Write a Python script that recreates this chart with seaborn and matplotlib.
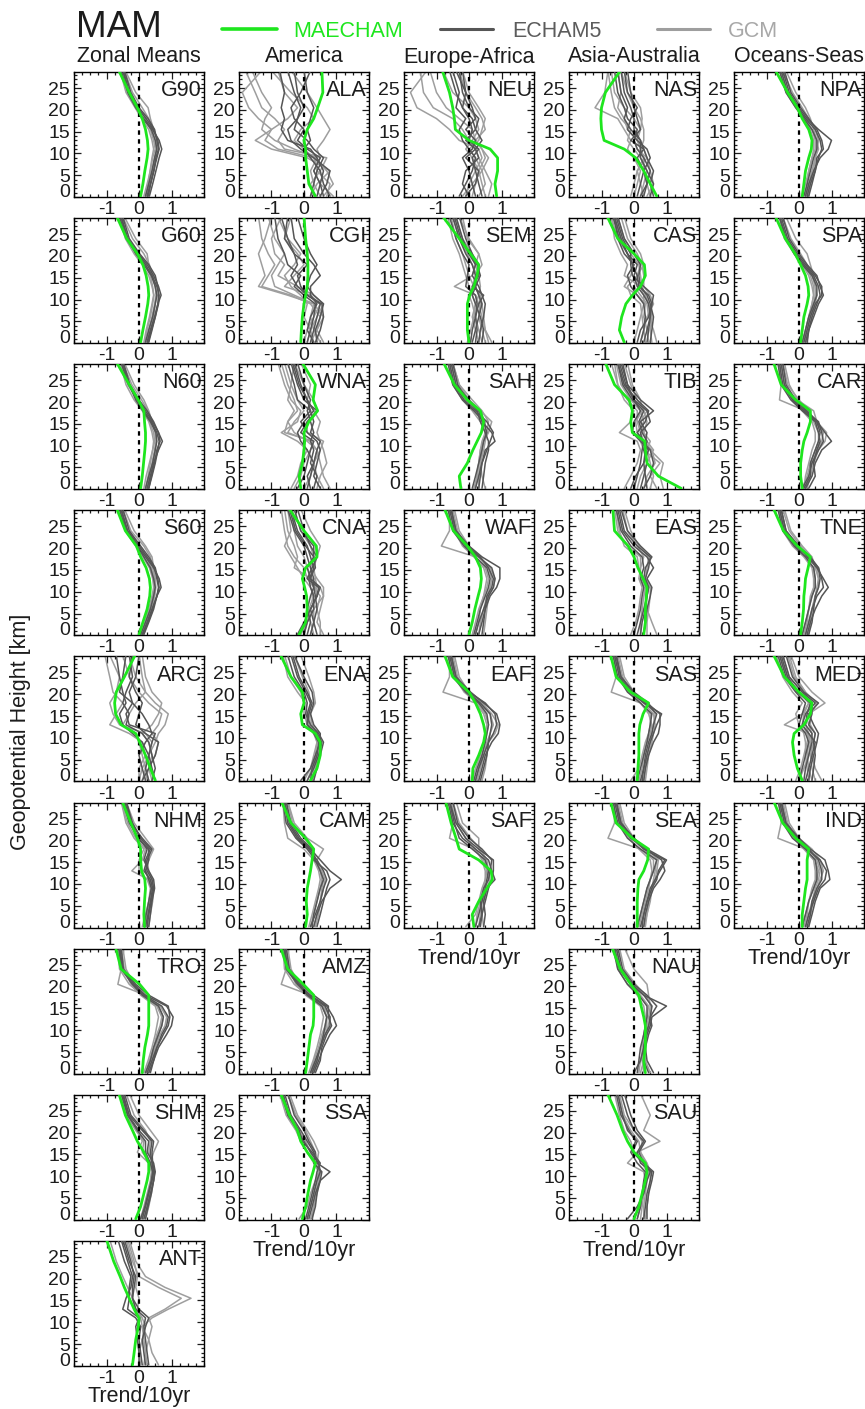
import numpy as np
import pandas as pd
import matplotlib
matplotlib.use("Agg")
import matplotlib.pyplot as plt
import seaborn as sns
from matplotlib.lines import Line2D
from matplotlib.ticker import MultipleLocator

# Heights [km] at which every trend profile is given
LEVELS = [0.2, 3, 6, 9, 11, 13, 15.5, 18, 20.5, 24, 29]

SEASON = "MAM"
COLUMN_TITLES = ["Zonal Means", "America", "Europe-Africa", "Asia-Australia", "Oceans-Seas"]
COLUMN_REGIONS = [
    ["G90", "G60", "N60", "S60", "ARC", "NHM", "TRO", "SHM", "ANT"],
    ["ALA", "CGI", "WNA", "CNA", "ENA", "CAM", "AMZ", "SSA"],
    ["NEU", "SEM", "SAH", "WAF", "EAF", "SAF"],
    ["NAS", "CAS", "TIB", "EAS", "SAS", "SEA", "NAU", "SAU"],
    ["NPA", "SPA", "CAR", "TNE", "MED", "IND"],
]
X_TICKS = [-1, 0, 1]
Y_TICKS = [0, 5, 10, 15, 20, 25]

# ---- temperature trend profiles (K per 10 yr) ----
G90_MAE = [.05, .12, .18, .25, .28, .26, .2, .1, -.05, -.3, -.62]
G90_E5 = [[.25, .35, .45, .55, .62, .58, .45, .22, -.05, -.3, -.5],
          [.32, .42, .52, .62, .7, .62, .42, .15, -.1, -.35, -.55],
          [.2, .3, .4, .48, .55, .5, .38, .12, -.08, -.3, -.48],
          [.28, .36, .46, .52, .6, .55, .48, .28, 0, -.25, -.45]]
G90_GCM = [[.15, .25, .35, .42, .5, .45, .35, .2, 0, -.32, -.52],
           [.25, .3, .4, .48, .55, .55, .45, .35, .28, -.1, -.42],
           [.2, .28, .34, .4, .45, .4, .3, .08, -.12, -.4, -.58],
           [.3, .35, .44, .5, .52, .5, .42, .3, .1, -.2, -.45]]

G60_MAE = [.05, .12, .2, .27, .3, .28, .22, .12, -.05, -.38, -.68]
G60_E5 = [[.25, .35, .48, .58, .68, .6, .45, .25, -.02, -.35, -.55],
          [.3, .4, .5, .6, .62, .55, .4, .2, -.08, -.38, -.6],
          [.2, .3, .42, .5, .55, .5, .38, .15, -.1, -.35, -.55],
          [.28, .38, .5, .58, .6, .58, .5, .3, .02, -.3, -.5]]
G60_GCM = [[.15, .22, .32, .4, .45, .42, .35, .2, -.05, -.35, -.55],
           [.25, .3, .4, .48, .52, .5, .4, .3, .25, -.1, -.45],
           [.18, .25, .35, .42, .46, .4, .3, .1, -.15, -.42, -.6],
           [.3, .35, .45, .5, .55, .5, .42, .32, .15, -.2, -.5]]

N60_MAE = [.05, .1, .14, .18, .2, .2, .17, .15, -.02, -.3, -.68]
N60_E5 = [[.25, .35, .45, .6, .72, .6, .42, .2, -.02, -.3, -.5],
          [.3, .4, .5, .58, .62, .55, .38, .15, -.05, -.32, -.55],
          [.2, .3, .42, .5, .55, .52, .35, .12, -.1, -.3, -.5],
          [.3, .38, .48, .55, .65, .6, .45, .25, 0, -.28, -.48]]
N60_GCM = [[.15, .22, .32, .42, .48, .45, .32, .15, -.05, -.35, -.55],
           [.25, .32, .4, .48, .52, .5, .4, .3, .15, -.15, -.45],
           [.2, .28, .35, .42, .45, .4, .3, .1, -.15, -.4, -.58],
           [.3, .35, .45, .5, .52, .5, .4, .28, .08, -.22, -.5]]

S60_MAE = [0, .12, .25, .33, .35, .32, .22, .05, -.08, -.42, -.68]
S60_E5 = [[.1, .25, .4, .55, .68, .62, .45, .2, -.05, -.38, -.55],
          [.15, .3, .45, .55, .6, .55, .48, .25, 0, -.35, -.55],
          [.05, .2, .35, .45, .5, .45, .35, .15, -.05, -.4, -.6],
          [.12, .28, .42, .55, .62, .58, .5, .3, .05, -.3, -.5]]
S60_GCM = [[.08, .2, .32, .42, .48, .45, .38, .22, .02, -.35, -.55],
           [.15, .25, .38, .48, .52, .5, .45, .4, .2, -.15, -.45],
           [.05, .18, .3, .4, .45, .42, .32, .12, -.1, -.42, -.6],
           [.1, .25, .38, .48, .5, .48, .42, .35, .15, -.25, -.5]]

ARC_MAE = [.5, .35, .2, .02, -.1, -.55, -.72, -.75, -.7, -.45, -.12]
ARC_E5 = [[.5, .4, .3, .1, -.2, -.5, -.6, -.4, -.5, -.6, -.7],
          [.1, .3, .5, .6, .2, -.1, 0, .1, -.1, -.3, -.2],
          [.2, .1, 0, .2, .4, .3, .1, -.2, -.3, -.1, 0],
          [.3, .2, .3, .4, .5, -.3, -.4, -.2, -.6, -.5, -.4],
          [.4, .5, .4, .3, .1, -.4, -.3, -.5, -.4, -.2, -.3]]
ARC_GCM = [[.1, .2, .3, .5, .6, .8, .9, .5, .2, -.1, -.3],
           [0, 0, .2, .1, -.3, -.9, -.7, -.5, -.8, -.9, -1.05],
           [.2, .3, .4, .3, .1, .4, .6, .7, .4, .2, .1],
           [.3, .2, .1, 0, -.1, -.5, -.3, -.1, .2, .1, 0],
           [0, .1, .3, .4, .2, -.6, -.8, -.9, -.7, -.6, -.9],
           [.4, .3, .5, .6, .4, .6, .7, .3, 0, -.3, -.5]]

NHM_MAE = [.17, .15, .17, .2, .18, .08, .05, .05, -.05, -.25, -.52]
NHM_E5 = [[.25, .3, .38, .45, .4, .25, .2, .35, .05, -.2, -.4],
          [.2, .28, .35, .42, .35, .15, .25, .4, .1, -.25, -.45],
          [.3, .35, .4, .48, .45, .3, .15, .25, 0, -.3, -.5],
          [.15, .22, .3, .38, .3, .2, .3, .3, -.05, -.22, -.4]]
NHM_GCM = [[.1, .2, .3, .38, .3, -.22, .1, .2, -.1, -.35, -.55],
           [.25, .3, .35, .4, .35, .2, .3, .45, .2, -.15, -.4],
           [.2, .25, .3, .35, .25, 0, 0, .15, -.15, -.4, -.55],
           [.3, .35, .42, .45, .4, .3, .25, .3, .05, -.2, -.45]]

TRO_MAE = [.1, .13, .18, .26, .3, .3, .3, .3, .02, -.55, -.72]
TRO_E5 = [[.3, .45, .6, .85, 1.0, 1.05, .85, .2, -.15, -.5, -.6],
          [.25, .4, .55, .7, .85, .9, .7, .15, -.2, -.55, -.62],
          [.2, .35, .45, .6, .7, .75, .6, .1, -.2, -.5, -.6],
          [.35, .45, .55, .75, .9, .95, .9, .3, -.1, -.48, -.55]]
TRO_GCM = [[.2, .32, .45, .55, .65, .7, .55, .1, -.3, -.6, -.65],
           [.25, .35, .5, .65, .8, .85, .65, .2, -.65, -.55, -.6],
           [.15, .28, .4, .5, .55, .6, .5, .05, -.25, -.45, -.55],
           [.3, .4, .5, .6, .7, .75, .6, .15, -.15, -.4, -.5]]

SHM_MAE = [-.1, .05, .15, .25, .3, .3, .15, -.05, -.2, -.42, -.62]
SHM_E5 = [[.1, .2, .3, .4, .45, .4, .35, .4, .1, -.3, -.5],
          [.15, .25, .35, .45, .5, .45, .25, .3, 0, -.35, -.55],
          [.05, .18, .28, .38, .42, .35, .2, .2, -.05, -.35, -.5],
          [.2, .28, .38, .45, .48, .42, .4, .45, .15, -.25, -.45]]
SHM_GCM = [[.1, .2, .3, .38, .4, .35, .45, .6, .35, 0, -.3],
           [.15, .25, .32, .4, .45, .35, .1, .15, -.1, -.4, -.55],
           [.05, .15, .25, .35, .38, .3, -.05, .1, -.05, -.3, -.5],
           [.2, .3, .38, .45, .45, .4, .3, .35, .2, -.15, -.4]]

ANT_MAE = [-.2, -.15, -.1, -.02, 0, -.15, -.3, -.45, -.58, -.78, -1.0]
ANT_E5 = [[.1, .05, 0, .05, -.1, -.5, -.4, -.25, -.2, -.35, -.55],
          [.2, .15, .1, .2, .3, 0, -.2, -.15, -.1, -.3, -.5],
          [0, 0, -.05, -.1, 0, -.35, -.3, -.3, -.25, -.45, -.65],
          [.3, .25, .2, .15, .2, -.1, -.2, -.2, -.15, -.25, -.45]]
ANT_GCM = [[.6, .4, .3, .1, .4, .9, 1.6, .8, .2, -.1, -.3],
           [.15, .2, .3, .4, .3, .8, 1.3, .6, 0, -.2, -.4],
           [.05, 0, .1, .2, .1, -.1, -.2, -.35, -.5, -.7, -.9],
           [.25, .2, .15, .1, .05, -.05, 0, -.1, -.05, -.15, -.35]]

ALA_MAE = [.35, .15, .1, .05, .05, 0, .1, .3, .42, .58, .55]
ALA_E5 = [[.6, .5, .6, .4, .2, -.5, -.7, -.6, -.7, -.6, -.75],
          [.2, .3, .4, .6, .3, .1, -.3, -.2, 0, -.2, -.3],
          [.8, .6, .5, .2, 0, .2, .1, .2, .3, .1, 0],
          [.4, .5, .3, .5, .1, -.2, 0, -.3, -.4, -.1, .2],
          [.5, .7, .8, .3, -.1, -.4, -.5, -.2, -.1, -.3, -.5]]
ALA_GCM = [[.6, .9, .7, .3, -.8, -1.2, -1.0, -1.4, -1.7, -1.9, -1.3],
           [.2, .4, .8, .1, -1.0, -1.5, -1.0, -.5, -.2, -.6, -.8],
           [.9, .5, .3, .5, .4, .6, .8, .6, .4, .1, -.4],
           [.5, .3, .2, .4, -.3, -.9, -1.3, -1.2, -1.0, -1.3, -1.6],
           [.3, .2, .5, .7, -.6, -.8, -.6, -.9, -1.3, -1.5, -1.8],
           [.7, .8, .4, .3, 0, -.3, -.1, .3, .1, -.4, -1.0]]

CGI_MAE = [-.1, -.08, -.05, 0, .05, .1, .12, .12, .1, .05, 0]
CGI_E5 = [[.2, .3, .4, .5, .1, -.2, -.4, -.2, -.3, -.5, -.7],
          [.4, .35, .5, .6, .3, .1, .2, .4, .2, 0, -.2],
          [.1, .2, .3, .35, 0, -.3, -.1, -.5, -.6, -.8, -.9],
          [.3, .1, .2, .4, .2, .2, .5, .3, 0, -.3, -.4],
          [.35, .5, .6, .55, .1, -.1, -.2, .1, -.3, -.6, -.5]]
CGI_GCM = [[.5, .3, .2, .3, -.5, -1.4, -1.2, -1.3, -1.4, -1.2, -1.0],
           [.2, .4, .6, .3, -.3, -.9, -1.0, -.8, -.6, -.9, -1.1],
           [.3, .2, 0, .1, -.1, -.4, -.6, -.3, -.1, -.5, -.8],
           [0, .1, .3, .5, .2, -.6, -.3, 0, -.2, -.6, -.4],
           [.6, .4, .5, .2, -.4, -1.3, -1.1, -.9, -1.1, -1.3, -1.4],
           [.1, .2, .4, .6, .3, -.2, -.8, -.6, -.9, -1.0, -.7]]

WNA_MAE = [-.1, -.15, -.05, 0, .02, 0, .15, .42, .28, .35, -.05]
WNA_E5 = [[.1, .2, .3, .1, -.1, -.2, 0, .3, .1, -.1, -.3],
          [.3, .4, .2, .3, .2, .3, .2, .1, .2, 0, -.2],
          [-.2, 0, .1, .2, .3, -.1, .1, .4, 0, -.2, -.4],
          [.5, .3, .4, .5, .4, .1, -.1, .2, -.2, -.3, -.5],
          [.2, .1, .3, .4, .5, .2, .3, .2, .1, -.15, -.35]]
WNA_GCM = [[-.4, -.2, -.1, .1, -.2, -.7, -.2, -.1, -.4, -.6, -.8],
           [.8, .6, .5, .4, .1, -.3, -.5, -.3, -.5, -.4, -.6],
           [.4, .5, .7, .6, .5, .4, .5, .3, .1, .2, -.1],
           [0, .2, .3, .4, .2, -.5, -.3, 0, -.2, -.4, -.3],
           [-.3, -.1, 0, .2, .3, -.6, -.5, -.2, -.3, -.5, -.7],
           [.6, .4, .3, .5, .6, .1, .1, .4, .3, 0, -.3]]

CNA_MAE = [-.15, .05, .1, .08, .02, -.05, .05, .4, .38, 0, -.45]
CNA_E5 = [[.2, .3, .4, .35, .3, .2, .3, .2, .1, -.2, -.4],
          [-.2, 0, .2, .4, .5, .2, .1, .3, .3, -.1, -.3],
          [.1, .2, .1, .2, .3, .3, .2, .1, 0, -.3, -.5],
          [.4, .3, .2, .4, .45, .1, .25, .4, .2, 0, -.2],
          [0, .1, .3, .3, .2, .15, .35, .3, .05, -.25, -.45]]
CNA_GCM = [[.5, .5, .4, .5, .3, .1, 0, -.3, -.5, -.6, -.7],
           [-.1, .1, .3, .6, .6, .4, .2, .3, .2, -.1, -.3],
           [.3, .2, .15, .3, .2, 0, -.2, -.4, -.6, -.4, -.5],
           [.2, .3, .3, .25, .4, .35, .3, .4, .5, .2, -.1],
           [.6, .4, .5, .6, .5, .2, -.3, -.2, -.3, -.5, -.6],
           [0, .1, .2, .4, .35, .25, .1, 0, -.2, -.3, -.35]]

ENA_MAE = [.2, .4, .5, .5, .35, -.05, -.1, 0, -.05, -.4, -.72]
ENA_E5 = [[.1, .3, .45, .55, .4, .1, .1, .2, .05, -.2, -.4],
          [-.1, .2, .35, .5, .5, .3, .2, .3, .25, 0, -.3],
          [.3, .4, .5, .6, .45, .2, .05, .1, 0, -.3, -.5],
          [.2, .25, .4, .45, .3, .1, .15, .25, .1, -.15, -.35]]
ENA_GCM = [[0, .2, .3, .4, .3, .1, 0, 0, -.1, -.4, -.6],
           [.3, .35, .45, .5, .4, .25, .2, .35, .3, .15, -.1],
           [.1, .25, .35, .4, .35, .15, .1, .05, -.2, -.5, -.65],
           [.25, .3, .4, .5, .45, .2, .15, .2, .15, -.05, -.3]]

CAM_MAE = [.05, .1, .07, .1, .15, .2, .25, .3, .05, -.4, -.7]
CAM_E5 = [[.3, .4, .55, .8, 1.15, .8, .5, .2, -.15, -.45, -.6],
          [.2, .35, .5, .6, .7, .6, .4, .15, -.2, -.5, -.6],
          [.4, .5, .6, .7, .8, .7, .3, .25, -.1, -.4, -.55],
          [.25, .3, .4, .5, .6, .5, .35, .1, -.25, -.55, -.65]]
CAM_GCM = [[.2, .3, .4, .5, .55, .5, .4, .6, .1, -.3, -.5],
           [.3, .4, .5, .6, .65, .55, .3, 0, -.5, -.6, -.65],
           [.15, .25, .35, .45, .5, .45, .3, .2, -.2, -.45, -.55],
           [.35, .45, .5, .55, .6, .5, .35, .3, 0, -.35, -.5]]

AMZ_MAE = [.05, .1, .15, .2, .28, .3, .3, .3, -.02, -.5, -.72]
AMZ_E5 = [[.3, .45, .6, .8, 1.0, .9, .7, .2, -.15, -.5, -.6],
          [.2, .35, .5, .65, .8, .8, .65, .15, -.2, -.55, -.62],
          [.25, .4, .5, .6, .65, .7, .55, .1, -.18, -.5, -.6],
          [.35, .5, .55, .7, .85, .75, .75, .3, -.1, -.45, -.55]]
AMZ_GCM = [[.2, .3, .45, .55, .65, .7, .55, .1, -.3, -.6, -.65],
           [.25, .35, .5, .65, .75, .8, .6, .2, -.7, -.55, -.6],
           [.15, .28, .4, .5, .55, .6, .5, .05, -.25, -.45, -.55],
           [.3, .4, .5, .6, .7, .7, .6, .15, -.15, -.4, -.5]]

SSA_MAE = [-.05, .05, .12, .2, .28, .35, .1, -.1, -.2, -.45, -.72]
SSA_E5 = [[.15, .25, .35, .5, .8, .4, .3, .1, -.1, -.4, -.6],
          [.1, .2, .3, .4, .5, .45, .2, 0, -.2, -.5, -.7],
          [.25, .35, .4, .5, .55, .3, .35, .15, 0, -.3, -.5],
          [.05, .15, .25, .35, .4, .5, .25, -.05, -.15, -.45, -.65]]
SSA_GCM = [[-.15, .1, .2, .35, .45, .35, .2, .05, -.15, -.5, -.65],
           [.2, .3, .4, .45, .5, .4, .45, .3, .1, -.2, -.45],
           [.1, .2, .3, .4, .45, .3, .1, -.1, -.25, -.55, -.75],
           [.25, .3, .35, .45, .5, .45, .35, .2, .05, -.25, -.5]]

NEU_MAE = [.85, .8, .88, .88, .65, 0, -.42, -.45, -.5, -.6, -.82]
NEU_E5 = [[-.3, -.1, .1, .2, 0, -.2, -.3, -.1, -.4, -.3, -.5],
          [.2, .1, 0, -.2, .1, .2, -.1, .2, .1, -.1, -.2],
          [.4, .3, .2, .1, .3, 0, .1, 0, -.2, -.4, -.6],
          [0, -.2, -.1, .3, .2, -.1, .2, .3, 0, -.2, -.3],
          [-.1, .2, .3, -.1, .2, .4, .2, .1, -.2, -.1, -.4]]
NEU_GCM = [[.3, .5, .4, .2, 0, .3, .4, .5, .3, 0, -.2],
           [-.1, 0, .2, .4, .3, -.3, -.6, -1.0, -1.6, -1.8, -1.3],
           [.5, .4, .3, .5, .4, .2, .1, -.3, -.7, -1.0, -1.2],
           [.1, .2, .3, .1, -.1, .1, .3, .2, 0, -.5, -.8],
           [.6, .7, .5, .3, .2, 0, -.2, -.5, -1.1, -1.4, -1.5],
           [-.2, .1, .4, .6, .4, .2, .5, .4, .2, -.1, -.3]]

SEM_MAE = [0, -.05, -.05, -.05, .02, .15, .25, .3, .05, -.3, -.8]
SEM_E5 = [[.1, .2, .3, .4, .3, .2, .2, .1, -.1, -.3, -.5],
          [.3, .35, .45, .5, .4, .3, .1, .2, 0, -.2, -.4],
          [.2, .25, .2, .3, .45, .1, .3, .3, .1, -.1, -.3],
          [.05, .1, .2, .25, .2, -.1, -.05, 0, -.2, -.4, -.6],
          [.4, .45, .35, .2, .1, .2, .35, .25, 0, -.25, -.45]]
SEM_GCM = [[.7, .5, .4, .3, .2, -.45, .1, .2, .3, 0, -.3],
           [.4, .3, .2, .1, 0, .1, .2, .4, .3, -.05, -.2],
           [-.05, .05, .15, .2, .1, 0, -.1, -.2, -.3, -.5, -.65],
           [.5, .4, .3, .35, .3, .2, .25, .1, -.05, -.3, -.5],
           [.3, .2, .1, .2, .3, .35, .3, .2, .1, -.2, -.4],
           [.6, .5, .45, .4, .35, .15, 0, -.1, -.2, -.4, -.55]]

SAH_MAE = [-.25, -.3, -.05, .12, .25, .38, .45, .35, -.05, -.45, -.78]
SAH_E5 = [[.2, .3, .4, .55, .65, .75, .55, .2, -.15, -.45, -.6],
          [.4, .45, .5, .6, .6, .5, .35, .25, -.05, -.35, -.5],
          [.1, .2, .3, .4, .45, .55, .45, .15, -.2, -.5, -.65],
          [.3, .35, .4, .5, .8, .7, .4, .3, 0, -.4, -.55]]
SAH_GCM = [[.5, .4, .35, .45, .5, .55, .6, .4, .1, -.3, -.5],
           [.15, .25, .3, .35, .4, .5, .35, .1, -.2, -.5, -.6],
           [.3, .3, .35, .4, .45, .5, .5, .3, -.1, -.4, -.55],
           [.2, .25, .3, .35, .45, .6, .7, .35, 0, -.3, -.5]]

WAF_MAE = [0, .1, .18, .28, .35, .38, .35, .2, -.05, -.48, -.75]
WAF_E5 = [[.2, .3, .45, .6, .75, .8, .7, .3, -.1, -.45, -.6],
          [.3, .4, .5, .65, .85, .95, .95, .4, 0, -.4, -.55],
          [.15, .25, .35, .5, .6, .65, .55, .2, -.15, -.5, -.65],
          [.4, .45, .5, .55, .7, .75, .6, .35, -.05, -.4, -.55]]
WAF_GCM = [[.1, .2, .3, .45, .55, .6, .5, .2, -.85, -.6, -.6],
           [.3, .35, .45, .55, .65, .7, .6, .3, -.1, -.35, -.5],
           [.2, .3, .35, .45, .5, .55, .45, .15, -.2, -.45, -.55],
           [.45, .5, .55, .6, .75, .8, .65, .3, 0, -.3, -.45]]

EAF_MAE = [.1, .12, .3, .45, .5, .45, .35, .2, 0, -.5, -.75]
EAF_E5 = [[.2, .3, .45, .6, .75, .85, .8, .5, 0, -.45, -.6],
          [.3, .4, .5, .7, .9, .95, .85, .45, .05, -.4, -.55],
          [.15, .25, .4, .5, .55, .6, .55, .3, -.1, -.5, -.65],
          [.35, .45, .55, .6, .65, .7, .65, .35, -.05, -.4, -.55]]
EAF_GCM = [[.1, .2, .35, .45, .5, .55, .45, .2, -.8, -.6, -.6],
           [.25, .35, .45, .55, .65, .75, .65, .3, -.1, -.35, -.5],
           [.2, .3, .4, .5, .55, .6, .5, .25, -.15, -.45, -.55],
           [.4, .5, .55, .6, .8, .9, .7, .4, 0, -.3, -.45]]

SAF_MAE = [.15, .1, .3, .55, .72, .68, .3, -.3, -.4, -.55, -.72]
SAF_E5 = [[.3, .4, .5, .6, .7, .75, .75, .3, -.1, -.4, -.6],
          [.45, .5, .45, .55, .8, .7, .6, .2, -.2, -.5, -.65],
          [.2, .3, .4, .5, .55, .6, .5, .1, -.3, -.45, -.6],
          [.35, .4, .35, .45, .6, .65, .7, .4, 0, -.35, -.5]]
SAF_GCM = [[-.1, .2, .3, .4, .5, .55, .45, .15, -.6, -.5, -.6],
           [.3, .35, .4, .5, .6, .55, .5, .3, .3, -.2, -.4],
           [.2, .25, .35, .45, .5, .5, .4, .2, -.1, -.4, -.55],
           [.45, .4, .45, .55, .65, .6, .55, .35, .05, -.3, -.5]]

NAS_MAE = [.7, .5, .3, .05, -.3, -.92, -1.0, -1.02, -1.0, -.88, -.42]
NAS_E5 = [[.3, .4, .5, .3, .1, 0, .1, -.2, -.3, -.5, -.6],
          [.5, .6, .4, .2, .2, .2, 0, 0, -.1, -.3, -.4],
          [.1, .2, .3, .5, .4, .1, -.2, -.1, .1, -.2, -.3],
          [.6, .5, .6, .4, .3, -.1, .2, .1, 0, -.1, -.2],
          [.2, .4, .3, .1, .3, .2, -.1, -.3, -.2, -.4, -.5]]
NAS_GCM = [[0, .1, .2, 0, -.2, -.1, -.3, -.5, -1.2, -.9, -.8],
           [.5, .4, .3, .3, .2, .3, .3, .2, 0, -.2, -.4],
           [.2, .3, .4, .2, 0, -.2, -.1, -.4, -.6, -.7, -.8],
           [.3, .2, .1, .4, .3, .1, .2, .25, .2, -.1, -.3],
           [.4, .6, .5, .4, .1, 0, .2, 0, -.3, -.6, -.7],
           [-.1, 0, .1, .3, .2, .1, -.2, -.3, -.5, -.4, -.5]]

CAS_MAE = [-.3, -.45, -.38, -.25, -.05, .2, .35, .32, 0, -.5, -.82]
CAS_E5 = [[.3, .4, .5, .45, .3, .1, 0, .1, -.2, -.4, -.6],
          [.5, .55, .6, .5, .4, .2, .15, .2, 0, -.3, -.5],
          [.2, .3, .35, .3, .1, -.1, -.2, 0, -.3, -.5, -.6],
          [.4, .45, .5, .55, .6, .3, -.05, -.1, -.1, -.35, -.55],
          [.1, .2, .45, .55, .45, .15, .1, -.05, -.2, -.45, -.65]]
CAS_GCM = [[.7, .6, .45, .4, .2, 0, .1, .3, .2, -.1, -.3],
           [0, .1, .2, .3, .3, .2, -.3, -.2, -.4, -.6, -.7],
           [.35, .3, .25, .2, -.1, -.2, .1, .2, 0, -.3, -.5],
           [.55, .5, .55, .45, .35, .25, .2, .15, -.1, -.4, -.6],
           [.2, .3, .4, .6, .5, .3, .3, .25, .1, -.2, -.4],
           [.45, .4, .3, .35, .1, -.3, -.1, 0, -.2, -.5, -.7]]

TIB_MAE = [1.45, .75, .4, .35, .33, -.05, -.1, -.05, -.15, -.6, -.88]
TIB_E5 = [[.2, .3, .4, .3, .35, .4, .2, .6, .2, -.2, -.4],
          [0, .1, .2, .25, .3, .1, .35, .45, .1, -.3, -.5],
          [.4, .35, .3, .45, .2, -.05, 0, .2, 0, -.2, -.35],
          [-.1, .05, .3, .35, .4, .25, .15, .3, -.05, -.35, -.5],
          [.3, .5, .6, .5, .25, .2, .5, .4, 0, -.25, -.45]]
TIB_GCM = [[.9, .8, .9, .5, .3, .2, .1, .1, -.2, -.5, -.6],
           [-.3, -.1, .1, .2, .1, -.45, -.1, 0, -.3, -.5, -.7],
           [.5, .6, .5, .4, .5, .3, .4, .3, .1, -.1, -.3],
           [.3, .4, .65, .55, .3, .1, .05, .25, .2, -.05, -.2],
           [.1, .2, .4, .6, .4, .3, .2, .4, 0, -.3, -.5],
           [.7, .5, .8, .3, .2, .1, .3, .2, -.1, -.4, -.55]]

EAS_MAE = [.3, .35, .35, .38, .4, .28, .12, 0, -.18, -.6, -.65]
EAS_E5 = [[.1, .2, .3, .4, .45, .35, .45, .5, .1, -.3, -.45],
          [.3, .35, .4, .5, .55, .4, .6, .4, 0, -.35, -.5],
          [0, .1, .2, .25, .3, .2, .3, .25, -.1, -.4, -.55],
          [.2, .25, .35, .4, .45, .3, .35, .55, .2, -.2, -.4]]
EAS_GCM = [[.7, .55, .4, .35, .3, .2, .2, .3, .1, -.2, -.35],
           [-.1, .05, .15, .2, .25, .15, .2, .2, -.2, -.5, -.6],
           [.4, .4, .45, .5, .5, .35, .4, .45, .15, -.1, -.3],
           [.2, .2, .25, .3, .35, .25, .15, .1, -.3, -.45, -.55]]

SAS_MAE = [.1, .12, .15, .15, .15, .18, .28, .45, -.1, -.55, -.72]
SAS_E5 = [[.2, .3, .4, .5, .6, .7, .85, .3, -.1, -.45, -.6],
          [.3, .35, .45, .6, .75, .8, .8, .4, 0, -.4, -.55],
          [.1, .2, .3, .4, .45, .5, .55, .2, -.2, -.5, -.65],
          [.25, .3, .35, .45, .55, .6, .7, .35, -.05, -.4, -.55]]
SAS_GCM = [[-.1, .15, .25, .35, .45, .5, .5, .2, -.7, -.55, -.6],
           [.35, .4, .45, .55, .6, .65, .6, .3, -.1, -.35, -.5],
           [.15, .25, .3, .4, .5, .55, .45, .2, -.15, -.45, -.55],
           [.3, .35, .4, .5, .55, .6, .65, .45, 0, -.3, -.45]]

SEA_MAE = [.1, .1, .1, .12, .15, .3, .42, .45, -.05, -.55, -.72]
SEA_E5 = [[.2, .3, .4, .5, .65, .8, 1.0, .4, -.1, -.45, -.6],
          [.3, .35, .45, .6, .8, .95, .85, .35, 0, -.4, -.55],
          [.1, .2, .3, .4, .5, .6, .7, .2, -.2, -.5, -.65],
          [.25, .3, .4, .55, .7, .75, .95, .3, -.05, -.4, -.55]]
SEA_GCM = [[.1, .2, .3, .4, .5, .6, .6, .2, -.8, -.6, -.6],
           [.3, .4, .5, .55, .6, .65, .7, .3, -.1, -.35, -.5],
           [.15, .25, .35, .45, .5, .55, .5, .15, -.15, -.45, -.55],
           [.35, .4, .45, .55, .65, .7, .75, .4, 0, -.3, -.45]]

NAU_MAE = [.35, .3, .35, .35, .35, .3, .22, .15, -.1, -.42, -.68]
NAU_E5 = [[0, .2, .3, .4, .5, .55, 1.0, .3, -.1, -.45, -.6],
          [.6, .4, .35, .45, .55, .5, .55, .3, -.05, -.4, -.55],
          [.1, .15, .2, .3, .35, .4, .4, .15, -.2, -.5, -.65],
          [.45, .3, .3, .35, .45, .5, .7, .4, 0, -.35, -.5]]
NAU_GCM = [[.5, .35, .3, .35, .4, .45, .5, .45, .4, 0, -.3],
           [.15, .2, .3, .35, .4, .35, .3, .1, -.2, -.5, -.6],
           [.3, .25, .25, .3, .35, .4, .45, .2, -.1, -.4, -.55],
           [.2, .3, .35, .4, .45, .5, .55, .35, .05, -.3, -.45]]

SAU_MAE = [0, .15, .25, .35, .4, .35, 0, -.2, -.35, -.52, -.82]
SAU_E5 = [[-.2, .1, .3, .4, .5, .3, -.05, .1, -.2, -.35, -.5],
          [.3, .35, .4, .5, .55, .2, .1, .3, 0, -.2, -.4],
          [.1, .2, .25, .3, .35, .1, -.1, .05, -.15, -.4, -.55],
          [.4, .4, .45, .55, .6, .3, .15, .35, .1, -.1, -.3]]
SAU_GCM = [[.2, .25, .3, .35, .3, -.2, .1, .8, .3, .5, .2],
           [.1, .2, .3, .35, .4, .25, 0, -.1, -.3, -.45, -.6],
           [.3, .3, .35, .4, .45, .35, .2, .25, 0, -.3, -.45],
           [.35, .4, .45, .5, .5, .4, .2, .15, -.1, -.35, -.5]]

NPA_MAE = [.1, .15, .2, .3, .38, .4, .3, .1, -.05, -.35, -.72]
NPA_E5 = [[.2, .3, .45, .65, .9, 1.0, .6, .25, 0, -.3, -.5],
          [.25, .35, .5, .6, .7, .65, .5, .2, -.05, -.35, -.55],
          [.15, .25, .35, .45, .55, .55, .4, .15, -.1, -.4, -.6],
          [.3, .4, .5, .55, .75, .7, .55, .3, .05, -.25, -.45]]
NPA_GCM = [[.1, .2, .3, .4, .5, .5, .4, .2, -.05, -.35, -.55],
           [.25, .3, .4, .5, .6, .55, .45, .35, .2, -.1, -.4],
           [.2, .25, .3, .4, .45, .45, .35, .15, -.1, -.4, -.6],
           [.3, .35, .45, .5, .55, .6, .5, .3, .1, -.2, -.5]]

SPA_MAE = [.05, .1, .15, .25, .3, .28, .2, .05, -.12, -.42, -.72]
SPA_E5 = [[.15, .25, .35, .5, .7, .7, .5, .2, -.05, -.35, -.55],
          [.2, .3, .4, .55, .65, .6, .45, .15, -.1, -.4, -.6],
          [.1, .2, .3, .45, .55, .55, .4, .1, -.15, -.4, -.6],
          [.25, .3, .45, .6, .75, .65, .55, .25, 0, -.3, -.5]]
SPA_GCM = [[.1, .2, .3, .4, .45, .45, .35, .15, -.1, -.4, -.6],
           [.2, .25, .35, .45, .5, .5, .45, .35, .25, -.1, -.4],
           [.15, .2, .3, .4, .45, .4, .3, .1, -.15, -.45, -.62],
           [.25, .3, .4, .5, .55, .5, .4, .25, .05, -.25, -.5]]

CAR_MAE = [.1, .05, .05, .1, .15, .25, .35, .35, -.1, -.55, -.78]
CAR_E5 = [[.2, .4, .5, .7, 1.0, .8, .55, .15, -.2, -.5, -.6],
          [.1, .3, .4, .6, .75, .7, .6, .2, -.15, -.45, -.55],
          [.3, .5, .45, .55, .65, .6, .5, .1, -.25, -.55, -.65],
          [.15, .35, .35, .5, .6, .65, .55, .25, -.1, -.4, -.5]]
CAR_GCM = [[.1, .25, .35, .5, .6, .6, .45, .2, -.6, -.55, -.6],
           [.2, .3, .4, .55, .7, .75, .5, .3, 0, -.35, -.5],
           [.15, .2, .3, .4, .5, .5, .4, .1, -.2, -.45, -.55],
           [.25, .35, .45, .6, .8, .85, .55, .45, -.05, -.3, -.45]]

TNE_MAE = [.05, .1, .14, .15, .18, .2, .28, .35, -.05, -.48, -.78]
TNE_E5 = [[.2, .3, .4, .55, .75, .7, .6, .3, -.1, -.45, -.6],
          [.25, .35, .5, .7, .9, .75, .55, .25, 0, -.4, -.55],
          [.1, .2, .3, .4, .5, .5, .45, .2, -.15, -.5, -.65],
          [.3, .4, .45, .5, .6, .65, .6, .35, -.05, -.4, -.55]]
TNE_GCM = [[.1, .2, .3, .4, .5, .5, .45, .2, -.1, -.45, -.6],
           [.2, .3, .4, .5, .55, .6, .5, .4, .1, -.25, -.45],
           [.15, .25, .3, .35, .45, .45, .4, .15, -.2, -.5, -.6],
           [.3, .35, .4, .5, .6, .6, .55, .35, .05, -.3, -.5]]

MED_MAE = [.1, -.05, -.15, -.2, -.15, .15, .35, .4, 0, -.45, -.78]
MED_E5 = [[.2, .3, .4, .5, .3, .1, .2, .5, .1, -.3, -.5],
          [.4, .45, .5, .45, .5, .3, .4, .4, 0, -.4, -.6],
          [0, .1, .2, .3, .2, 0, .1, .2, -.1, -.45, -.65],
          [.3, .35, .45, .55, .6, .45, .3, .6, .15, -.2, -.4],
          [.15, .2, .3, .4, .4, .2, .25, .35, -.05, -.35, -.55]]
MED_GCM = [[.7, .5, .4, .35, .3, -.45, .1, .3, .2, -.1, -.3],
           [-.1, .05, .15, .25, .3, .2, .3, .8, .4, 0, -.25],
           [.3, .25, .2, .2, .15, 0, -.1, .1, -.2, -.5, -.7],
           [.5, .4, .35, .45, .5, .35, .35, .55, .2, -.15, -.35],
           [.4, .3, .25, .3, .4, .3, .2, .4, .1, -.3, -.5],
           [0, .15, .3, .35, .25, .1, .15, .3, 0, -.35, -.6]]

IND_MAE = [.1, .1, .15, .2, .25, .25, .25, .3, -.1, -.5, -.78]
IND_E5 = [[.2, .3, .45, .6, .8, .85, .65, .25, -.1, -.45, -.6],
          [.3, .4, .5, .65, .95, .9, .8, .35, 0, -.4, -.55],
          [.1, .2, .3, .45, .55, .55, .5, .2, -.2, -.5, -.65],
          [.25, .35, .4, .55, .7, .7, .6, .3, -.05, -.4, -.55]]
IND_GCM = [[.1, .2, .3, .45, .55, .6, .5, .2, -.65, -.55, -.6],
           [.2, .3, .4, .5, .6, .65, .55, .3, -.1, -.35, -.5],
           [.15, .25, .3, .4, .5, .5, .45, .15, -.15, -.45, -.55],
           [.3, .35, .45, .55, .65, .75, .65, .4, 0, -.3, -.45]]

# ---- styling ----
GREEN = "#1ee61e"
DARK = "#555555"
LIGHT = "#9e9e9e"
TEXT = "#1c1c1c"

sns.set_style("ticks")
plt.rcParams["font.family"] = ["Liberation Sans", "DejaVu Sans"]
plt.rcParams.update({
    "text.color": TEXT, "axes.labelcolor": TEXT,
    "xtick.color": TEXT, "ytick.color": TEXT,
    "axes.edgecolor": "black", "axes.linewidth": 1.0,
})

W, H = 865, 1409
fig = plt.figure(figsize=(W / 100, H / 100), dpi=100)

COL_X = [74, 239, 404, 569, 734]
PANEL_W, PANEL_H = 130, 125
ROW_TOP, ROW_STEP = 72, 146.1
TICK_FS = 14
LABEL_FS = 15.5


def profile_frame(profiles):
    n = len(profiles)
    return pd.DataFrame({
        "member": np.repeat(np.arange(n), len(LEVELS)),
        "height": np.tile(LEVELS, n),
        "trend": np.concatenate([np.asarray(p, float) for p in profiles]),
    })


def draw_group(ax, profiles, color, lw, z):
    sns.lineplot(data=profile_frame(profiles), x="trend", y="height",
                 units="member", estimator=None, orient="y",
                 color=color, linewidth=lw, ax=ax, legend=False, zorder=z)


for c, (title, regions) in enumerate(zip(COLUMN_TITLES, COLUMN_REGIONS)):
    fig.text((COL_X[c] + PANEL_W / 2) / W, 1 - 57 / H, title,
             ha="center", va="center", fontsize=LABEL_FS)
    for r, name in enumerate(regions):
        top = ROW_TOP + r * ROW_STEP
        ax = fig.add_axes([COL_X[c] / W, 1 - (top + PANEL_H) / H,
                           PANEL_W / W, PANEL_H / H])
        g = globals()
        draw_group(ax, g[f"{name}_GCM"], LIGHT, 1.1, 2)
        draw_group(ax, g[f"{name}_E5"], DARK, 1.1, 3)
        ax.axvline(0, color="black", lw=1.6, ls=(0, (2, 2)), zorder=4)
        draw_group(ax, [g[f"{name}_MAE"]], GREEN, 2.0, 5)

        ax.set_xlim(-2, 2)
        ax.set_ylim(0, 28.7)
        ax.set_xticks(X_TICKS, labels=[str(t) for t in X_TICKS])
        ax.set_yticks(Y_TICKS, labels=[str(t) for t in Y_TICKS])
        ax.xaxis.set_minor_locator(MultipleLocator(0.25))
        ax.yaxis.set_minor_locator(MultipleLocator(1))
        ax.tick_params(which="both", direction="in", top=True, right=True,
                       labelsize=TICK_FS, width=0.9, pad=3)
        ax.tick_params(which="major", length=5)
        ax.tick_params(which="minor", length=2.5)
        ax.get_yticklabels()[0].set_va("baseline")
        ax.set_xlabel("")
        ax.set_ylabel("")
        ax.text(0.985, 0.935, name, transform=ax.transAxes, ha="right",
                va="top", fontsize=LABEL_FS, zorder=6)
        if r == len(regions) - 1:
            fig.text((COL_X[c] + PANEL_W / 2) / W, 1 - (top + PANEL_H + 31) / H,
                     "Trend/10yr", ha="center", va="center", fontsize=LABEL_FS)

fig.text(21 / W, 1 - 732 / H, "Geopotential Height [km]", rotation=90,
         ha="center", va="center", fontsize=LABEL_FS)

# season title and legend row
fig.text(76 / W, 1 - 37 / H, SEASON, fontsize=26.5, ha="left", va="baseline")
LEGEND = [("MAECHAM", GREEN, GREEN, 2.6, 222, 277, 293),
          ("ECHAM5", DARK, "#5c5c5c", 2.2, 440, 493, 512),
          ("GCM", LIGHT, "#a8a8a8", 2.2, 657, 710, 728)]
for label, lcolor, tcolor, lw, x0, x1, xt in LEGEND:
    fig.add_artist(Line2D([x0 / W, x1 / W], [1 - 29 / H, 1 - 29 / H],
                          color=lcolor, lw=lw, transform=fig.transFigure))
    fig.text(xt / W, 1 - 37 / H, label, color=tcolor, fontsize=LABEL_FS,
             ha="left", va="baseline")

fig.savefig("out.png", dpi=100)
